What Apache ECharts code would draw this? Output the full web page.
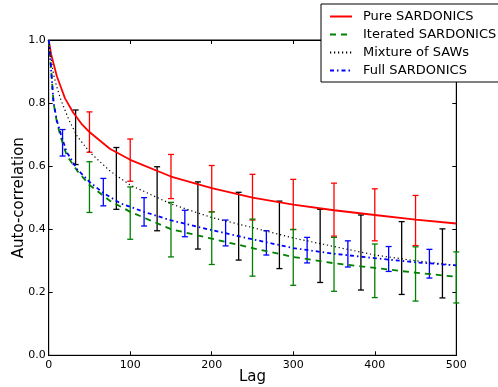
<!DOCTYPE html>
<html><head><meta charset="utf-8">
<script src="https://cdn.jsdelivr.net/npm/echarts@6/dist/echarts.min.js"></script>
<style>html,body{margin:0;padding:0;background:#fff}#c{width:498px;height:387px}</style>
</head><body><div id="c"></div>
<script>
// Curves: [lag, autocorrelation]
const pureLags = [0,3,6,10,15,20,30,40,50,75,100,150,200,250,300,350,400,450,500];
const pureVals = [1.0,0.955,0.925,0.885,0.85,0.815,0.77,0.735,0.708,0.655,0.62,0.567,0.53,0.50,0.478,0.46,0.445,0.43,0.418];
const iterLags = [0,2,4,6,10,15,22,35,50,75,100,150,200,250,300,350,400,450,500];
const iterVals = [1.0,0.94,0.87,0.80,0.74,0.69,0.635,0.585,0.54,0.49,0.455,0.40,0.37,0.34,0.312,0.292,0.277,0.262,0.249];
const mixLags = [0,3,6,10,15,25,35,50,75,100,150,200,250,300,350,400,450,500];
const mixVals = [1.0,0.94,0.89,0.85,0.81,0.745,0.695,0.645,0.585,0.54,0.48,0.437,0.405,0.372,0.345,0.318,0.30,0.285];
const fullLags = [0,2,4,6,10,15,22,35,50,67,88,117,150,200,250,300,350,400,450,500];
const fullVals = [1.0,0.94,0.87,0.80,0.745,0.70,0.645,0.59,0.55,0.515,0.482,0.455,0.428,0.397,0.368,0.34,0.322,0.308,0.295,0.285];

// Error bars: lag, lower, upper
const pureErrLags = [50,100,150,200,250,300,350,400,450];
const pureErrLow  = [0.644,0.552,0.497,0.455,0.429,0.399,0.378,0.363,0.348];
const pureErrHigh = [0.772,0.686,0.637,0.602,0.574,0.558,0.546,0.528,0.507];
const iterErrLags = [50,100,150,200,250,300,350,400,450,500];
const iterErrLow  = [0.453,0.368,0.312,0.288,0.251,0.222,0.203,0.183,0.172,0.166];
const iterErrHigh = [0.614,0.534,0.485,0.455,0.432,0.399,0.374,0.353,0.344,0.328];
const mixErrLags = [33,83,133,183,233,283,333,383,433,483];
const mixErrLow  = [0.605,0.463,0.395,0.337,0.302,0.275,0.231,0.207,0.193,0.182];
const mixErrHigh = [0.778,0.659,0.598,0.55,0.517,0.489,0.463,0.445,0.424,0.401];
const fullErrLags = [17,67,117,167,217,267,317,367,417,467];
const fullErrLow  = [0.632,0.474,0.41,0.376,0.347,0.318,0.293,0.28,0.266,0.245];
const fullErrHigh = [0.716,0.561,0.50,0.46,0.429,0.395,0.374,0.363,0.345,0.336];

const xTicks = [0,100,200,300,400,500];
const yTicks = [0.0,0.2,0.4,0.6,0.8,1.0];

const names = ['Pure SARDONICS','Iterated SARDONICS','Mixture of SAWs','Full SARDONICS'];
const colors = ['#ff0000','#008000','#000000','#0000ff'];

function zip(a,b){return a.map((v,i)=>[v,b[i]]);}
function zip3(a,b,c){return a.map((v,i)=>[v,b[i],c[i]]);}

function errSeries(data, color){
  return {
    type:'custom', silent:true, z:3,
    renderItem:function(params, api){
      const x = api.value(0);
      const lo = api.coord([x, api.value(1)]);
      const hi = api.coord([x, api.value(2)]);
      const w = 3;
      const st = {stroke:color, lineWidth:1.3};
      return {type:'group', children:[
        {type:'line', shape:{x1:lo[0],y1:lo[1],x2:hi[0],y2:hi[1]}, style:st},
        {type:'line', shape:{x1:lo[0]-w,y1:lo[1],x2:lo[0]+w,y2:lo[1]}, style:st},
        {type:'line', shape:{x1:hi[0]-w,y1:hi[1],x2:hi[0]+w,y2:hi[1]}, style:st}
      ]};
    },
    data:data, encode:{x:0,y:[1,2]}
  };
}

const font = 'DejaVu Sans';
const chart = echarts.init(document.getElementById('c'), null, {renderer:'canvas'});
const tickStyle = {inside:true, length:4, lineStyle:{color:'#000', width:1}};
const axLine = {show:true, onZero:false, lineStyle:{color:'#000', width:1}};
chart.setOption({
  animation:false,
  backgroundColor:'#fff',
  grid:{left:48.7, right:41.7, top:40, bottom:31.7, containLabel:false, outerBoundsMode:'none',
        show:true, borderColor:'#000', borderWidth:1, backgroundColor:'transparent'},
  legend:{
    data:names, orient:'vertical', left:321, top:4,
    itemWidth:22, itemHeight:10, itemGap:5,
    padding:[6,14,5,8],
    borderColor:'#000', borderWidth:1, borderRadius:0, backgroundColor:'#fff',
    itemStyle:{opacity:0},
    textStyle:{fontFamily:font, fontSize:13, color:'#000', padding:[0,0,0,6]}
  },
  xAxis:[
    {type:'value', min:0, max:500, interval:100, position:'bottom',
     name:'Lag', nameLocation:'middle', nameGap:14, nameMoveOverlap:false,
     nameTextStyle:{fontFamily:font, fontSize:15, color:'#000', verticalAlign:'top'},
     axisLine:axLine, axisTick:tickStyle, splitLine:{show:false},
     axisLabel:{fontFamily:font, fontSize:11, color:'#000', margin:4}},
    {type:'value', min:0, max:500, interval:100, position:'top',
     axisLine:axLine, axisTick:tickStyle, splitLine:{show:false}, axisLabel:{show:false}}
  ],
  yAxis:[
    {type:'value', min:0, max:1, interval:0.2, position:'left',
     name:'Auto-correlation', nameLocation:'middle', nameGap:22, nameMoveOverlap:false,
     nameTextStyle:{fontFamily:font, fontSize:15, color:'#000'},
     axisLine:axLine, axisTick:tickStyle, splitLine:{show:false},
     axisLabel:{fontFamily:font, fontSize:11, color:'#000', margin:3, formatter:v=>v.toFixed(1)}},
    {type:'value', min:0, max:1, interval:0.2, position:'right',
     axisLine:axLine, axisTick:tickStyle, splitLine:{show:false}, axisLabel:{show:false}}
  ],
  series:[
    {name:names[0], type:'line', data:zip(pureLags,pureVals), showSymbol:false, symbol:'none', z:4,
     lineStyle:{color:colors[0], width:1.8}, itemStyle:{color:colors[0]}},
    {name:names[1], type:'line', data:zip(iterLags,iterVals), showSymbol:false, symbol:'none', z:4,
     lineStyle:{color:colors[1], width:1.8, type:[6,5]}, itemStyle:{color:colors[1]}},
    {name:names[2], type:'line', data:zip(mixLags,mixVals), showSymbol:false, symbol:'none', z:4,
     lineStyle:{color:colors[2], width:1.2, type:[1.2,2.8]}, itemStyle:{color:colors[2]}},
    {name:names[3], type:'line', data:zip(fullLags,fullVals), showSymbol:false, symbol:'none', z:4,
     lineStyle:{color:colors[3], width:1.8, type:[4,3,1.5,3]}, itemStyle:{color:colors[3]}},
    errSeries(zip3(pureErrLags,pureErrLow,pureErrHigh), colors[0]),
    errSeries(zip3(iterErrLags,iterErrLow,iterErrHigh), colors[1]),
    errSeries(zip3(mixErrLags,mixErrLow,mixErrHigh), colors[2]),
    errSeries(zip3(fullErrLags,fullErrLow,fullErrHigh), colors[3])
  ]
});
</script></body></html>
